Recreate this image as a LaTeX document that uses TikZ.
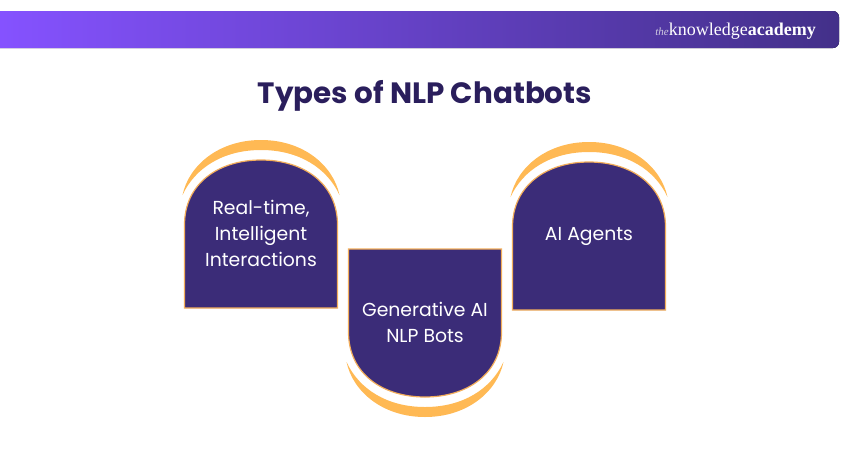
\documentclass[tikz,border=0pt]{standalone}
\usepackage{fontspec}
\setmainfont{Poppins}
\newfontfamily\logofont{Liberation Serif}
\definecolor{cardfill}{HTML}{3B2C78}
\definecolor{cardline}{HTML}{F3AE5B}
\definecolor{crescent}{HTML}{FFB954}
\definecolor{titleink}{HTML}{2A1E5C}
\definecolor{barleft}{HTML}{8552FF}
\definecolor{barright}{HTML}{433089}
\tikzset{
 card/.style={fill=cardfill,draw=cardline,line width=1.2pt},
 moon/.style={fill=crescent,draw=none},
 cardtext/.style={text=white,font=\fontsize{18.8}{26}\selectfont,align=center,inner sep=0pt},
}
\newcommand{\archcard}{%
  \fill[moon] (-78.5,195) .. controls (-72,165) and (-42,140) .. (0,140) .. controls (42,140) and (72,165) .. (78.5,195) .. controls (66,168) and (38,150) .. (0,150) .. controls (-38,150) and (-66,168) .. (-78.5,195) -- cycle;
  \draw[card] (-76.5,308) -- (-76.5,225) .. controls (-76.5,183) and (-42,160) .. (0,160) .. controls (42,160) and (76.5,183) .. (76.5,225) -- (76.5,308) -- cycle;
}
\begin{document}
\begin{tikzpicture}[x=1pt,y=-1pt]
\useasboundingbox (0,0) rectangle (850,450);
\fill[left color=barleft,right color=barright] (0,11) -- (833,11) arc[start angle=-90,end angle=0,radius=6] -- (839,42) arc[start angle=0,end angle=90,radius=6] -- (0,48) -- cycle;
\node[anchor=base east,inner sep=0pt,text=white,font=\logofont\fontsize{18}{18}\selectfont] (logo) at (816,35.5) {{\color{white!75!barright}\fontsize{11}{11}\selectfont\itshape the}knowledge\textbf{academy}};
\node[text=titleink,font=\bfseries\fontsize{29.4}{29.4}\selectfont,inner sep=0pt] (title) at (425,96) {Types of NLP Chatbots};
\begin{scope}[shift={(261,0)}]\archcard\end{scope}
\begin{scope}[shift={(589,2)}]\archcard\end{scope}
\begin{scope}[shift={(425,557)},yscale=-1]\archcard\end{scope}
\node[cardtext] (a) at (261,233) {Real-time,\\Intelligent\\Interactions};
\node[cardtext] (c) at (589,236) {AI Agents};
\node[cardtext] (b) at (425,322) {Generative AI\\NLP Bots};
\end{tikzpicture}
\end{document}
